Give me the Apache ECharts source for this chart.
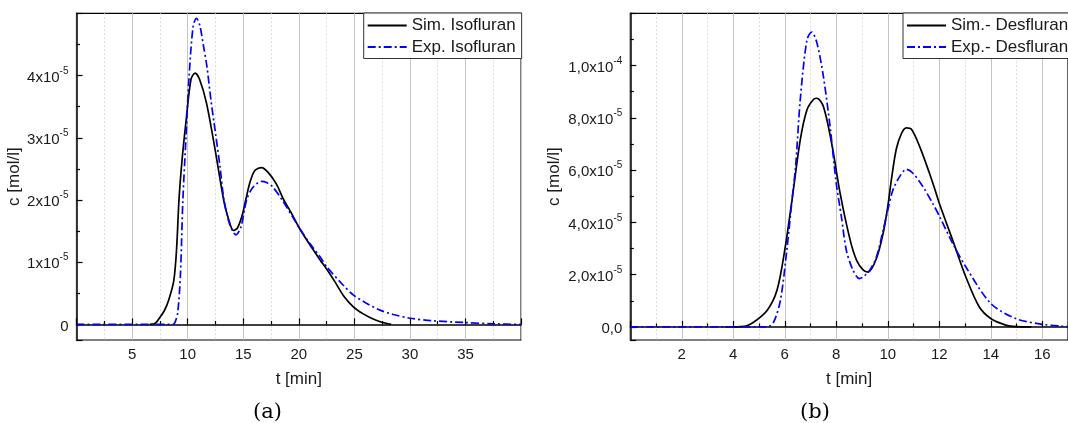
<!DOCTYPE html>
<html>
<head>
<meta charset="utf-8">
<script src="https://cdn.jsdelivr.net/npm/echarts@6/dist/echarts.min.js"></script>
<style>
html,body{margin:0;padding:0;background:#fff;}
#chart{width:1068px;height:423px;}
</style>
</head>
<body>
<div id="chart"></div>
<script>
// ---- Data (t in min, c in mol/l) ----
const simIsoT = [6.6, 7.1, 7.45, 7.9, 8.29, 8.75, 9.0, 9.22, 9.5, 9.84, 10.3, 10.67, 11.07, 11.69, 12.47, 13.24, 13.7, 14.11, 14.48, 14.9, 15.25, 15.6, 16.03, 16.64, 17.26, 18.0, 18.65, 19.3, 19.98, 20.7, 21.9, 22.5, 23.2, 24.07, 24.93, 25.8, 26.54, 27.4, 28.31];
const simIsoC = [0, 0.02e-5, 0.1e-5, 0.22e-5, 0.39e-5, 0.7e-5, 1.2e-5, 2.0e-5, 2.65e-5, 3.24e-5, 3.94e-5, 4.04e-5, 3.94e-5, 3.56e-5, 2.81e-5, 2.0e-5, 1.68e-5, 1.51e-5, 1.55e-5, 1.75e-5, 2.02e-5, 2.28e-5, 2.47e-5, 2.52e-5, 2.44e-5, 2.25e-5, 2.0e-5, 1.8e-5, 1.57e-5, 1.36e-5, 1.04e-5, 0.89e-5, 0.7e-5, 0.45e-5, 0.28e-5, 0.17e-5, 0.1e-5, 0.04e-5, 0];
const expIsoT = [0, 8.65, 8.85, 9.1, 9.35, 9.57, 9.84, 10.13, 10.5, 10.8, 11.1, 11.4, 11.73, 12.1, 12.5, 12.9, 13.27, 13.8, 14.35, 14.8, 15.3, 15.74, 16.2, 16.67, 17.1, 17.6, 18.5, 19.98, 21.0, 21.9, 22.5, 24.0, 24.93, 26.0, 27.3, 28.5, 30.0, 32.0, 35.0, 37.5, 40.0];
const expIsoC = [0, 0, 0.03e-5, 0.18e-5, 0.8e-5, 2.0e-5, 2.97e-5, 3.99e-5, 4.8e-5, 4.92e-5, 4.8e-5, 4.5e-5, 4.15e-5, 3.6e-5, 3.08e-5, 2.55e-5, 2.0e-5, 1.6e-5, 1.44e-5, 1.57e-5, 2.0e-5, 2.17e-5, 2.26e-5, 2.3e-5, 2.28e-5, 2.22e-5, 2.0e-5, 1.57e-5, 1.3e-5, 1.09e-5, 0.93e-5, 0.63e-5, 0.47e-5, 0.35e-5, 0.23e-5, 0.16e-5, 0.1e-5, 0.06e-5, 0.03e-5, 0.01e-5, 0];

const simDesT = [3.7, 4.41, 4.8, 5.32, 5.7, 6.02, 6.28, 6.6, 6.86, 7.12, 7.25, 7.5, 7.82, 8.15, 8.54, 8.79, 9.05, 9.24, 9.56, 9.82, 10.0, 10.15, 10.33, 10.53, 10.72, 10.92, 11.24, 11.62, 11.88, 12.0, 12.52, 13.03, 13.55, 14.0, 14.58, 15.0, 15.58];
const simDesC = [0, 0.02e-5, 0.19e-5, 0.64e-5, 1.41e-5, 3.07e-5, 4.85e-5, 7.15e-5, 8.3e-5, 8.71e-5, 8.75e-5, 8.43e-5, 7.03e-5, 5.11e-5, 3.32e-5, 2.55e-5, 2.17e-5, 2.1e-5, 2.62e-5, 3.58e-5, 4.6e-5, 5.7e-5, 6.8e-5, 7.4e-5, 7.62e-5, 7.56e-5, 6.9e-5, 5.88e-5, 5.11e-5, 4.73e-5, 3.32e-5, 1.92e-5, 0.77e-5, 0.32e-5, 0.07e-5, 0.01e-5, 0];
const expDesT = [0, 5.32, 5.57, 5.83, 6.08, 6.28, 6.42, 6.6, 6.86, 7.05, 7.25, 7.5, 7.76, 8.0, 8.2, 8.39, 8.65, 8.9, 9.05, 9.3, 9.56, 9.82, 10.0, 10.2, 10.46, 10.72, 10.98, 11.37, 11.76, 12.0, 12.52, 13.03, 14.0, 14.97, 16.0, 16.74, 17.5];
const expDesC = [0, 0, 0.19e-5, 1.02e-5, 2.94e-5, 4.85e-5, 6.13e-5, 8.68e-5, 10.98e-5, 11.28e-5, 10.86e-5, 9.58e-5, 7.66e-5, 5.49e-5, 4.21e-5, 2.94e-5, 2.17e-5, 1.85e-5, 1.92e-5, 2.17e-5, 2.68e-5, 3.7e-5, 4.47e-5, 5.24e-5, 5.75e-5, 6.03e-5, 5.88e-5, 5.36e-5, 4.7e-5, 4.25e-5, 3.2e-5, 2.3e-5, 0.9e-5, 0.32e-5, 0.1e-5, 0.03e-5, 0];

const namesA = ['Sim. Isofluran', 'Exp. Isofluran'];
const namesB = ['Sim.- Desfluran', 'Exp.- Desfluran'];
const xTitle = 't [min]';
const yTitle = 'c [mol/l]';
const captions = ['(a)', '(b)'];

function pairs(t, c) { return t.map((v, i) => [v, c[i]]); }

const FONT = '"Liberation Sans", Arial, sans-serif';
const TXT = '#1a1a1a';

function fmtA(v) {
  if (Math.abs(v) < 1e-12) return '{b|0}';
  const e = Math.floor(Math.log10(Math.abs(v)) + 1e-9);
  const m = Math.round(v / Math.pow(10, e));
  return '{b|' + m + 'x10}{s|' + e + '}';
}
function fmtB(v) {
  if (Math.abs(v) < 1e-12) return '{b|0,0}';
  const e = Math.floor(Math.log10(Math.abs(v)) + 1e-9);
  const m = (v / Math.pow(10, e)).toFixed(1).replace('.', ',');
  return '{b|' + m + 'x10}{s|' + e + '}';
}
const rich = {
  b: { fontSize: 15, fontFamily: FONT, color: TXT, lineHeight: 19, verticalAlign: 'bottom' },
  s: { fontSize: 10, fontFamily: FONT, color: TXT, lineHeight: 10, verticalAlign: 'top' }
};

function xAxisCfg(grid, max, interval) {
  return {
    type: 'value', gridIndex: grid, min: 0, max: max, interval: interval,
    name: xTitle, nameLocation: 'middle', nameGap: 31,
    nameTextStyle: { fontSize: 17, fontFamily: FONT, color: TXT },
    axisLine: { lineStyle: { color: '#000', width: 1.5 } },
    axisTick: { inside: true, length: 6, lineStyle: { color: '#000', width: 1.2 } },
    minorTick: { show: true, splitNumber: 2, length: 3.5, lineStyle: { color: '#000', width: 1.2 } },
    axisLabel: { showMinLabel: false, showMaxLabel: false, fontSize: 15, fontFamily: FONT, color: TXT, margin: 7 },
    splitLine: { show: true, lineStyle: { color: '#c4c4c4', width: 1 } },
    minorSplitLine: { show: true, lineStyle: { color: '#dcdcdc', width: 1, type: [2, 2] } }
  };
}
function yAxisCfg(grid, min, max, step, fmt, gap) {
  return {
    type: 'value', gridIndex: grid, min: min, max: max,
    minInterval: step, maxInterval: step, splitNumber: Math.round((max - min) / step),
    name: yTitle, nameLocation: 'middle', nameGap: gap,
    nameTextStyle: { fontSize: 17, fontFamily: FONT, color: TXT },
    axisLine: { show: true, lineStyle: { color: '#000', width: 1.5 } },
    axisTick: { inside: true, length: 6, lineStyle: { color: '#000', width: 1.2 } },
    minorTick: { show: true, splitNumber: 2, length: 3.5, lineStyle: { color: '#000', width: 1.2 } },
    axisLabel: { showMinLabel: false, showMaxLabel: false, margin: 8, formatter: fmt, rich: rich },
    splitLine: { show: false },
    minorSplitLine: { show: false }
  };
}

const lineSim = { color: '#000', width: 1.7 };
const lineExp = { color: '#0000ff', width: 1.7, type: [8, 3, 2, 3] };
function series(name, data, idx, ls) {
  return {
    name: name, type: 'line', xAxisIndex: idx, yAxisIndex: idx, data: data,
    showSymbol: false, symbol: 'none', smooth: 0.3,
    lineStyle: ls, itemStyle: { color: ls.color }, animation: false
  };
}
function legendCfg(left, names) {
  return {
    data: names, orient: 'vertical', left: left, top: 13,
    itemWidth: 39, itemHeight: 14, itemGap: 4.5,
    padding: [4, 6, 3, 3], backgroundColor: '#fff',
    borderColor: '#333', borderWidth: 1, borderRadius: 0,
    itemStyle: { opacity: 0 },
    textStyle: { fontSize: 17, fontFamily: FONT, color: TXT, padding: [0, 0, 0, 0] },
    selectedMode: false
  };
}

const chart = echarts.init(document.getElementById('chart'), null, { renderer: 'canvas' });
chart.setOption({
  backgroundColor: '#fff',
  animation: false,
  grid: [
    { left: 76.5, top: 13.3, width: 444.6, height: 326.7, show: true, borderColor: '#000', borderWidth: 1.2, backgroundColor: 'transparent', containLabel: false },
    { left: 630.3, top: 13.3, width: 444.4, height: 326.7, show: true, borderColor: '#000', borderWidth: 1.2, backgroundColor: 'transparent', containLabel: false }
  ],
  xAxis: [xAxisCfg(0, 40, 5), xAxisCfg(1, 17, 2)],
  yAxis: [yAxisCfg(0, -2.5e-6, 5.0e-5, 1e-5, fmtA, 52), yAxisCfg(1, -5e-6, 1.2e-4, 2e-5, fmtB, 67)],
  legend: [legendCfg(363.7, namesA), legendCfg(903, namesB)],
  series: [
    series(namesA[0], pairs(simIsoT, simIsoC), 0, lineSim),
    series(namesA[1], pairs(expIsoT, expIsoC), 0, lineExp),
    series(namesB[0], pairs(simDesT, simDesC), 1, lineSim),
    series(namesB[1], pairs(expDesT, expDesC), 1, lineExp)
  ],
  graphic: [
    { type: 'text', x: 267.5, y: 413, style: { text: captions[0], font: '21px "DejaVu Serif", serif', fill: '#000', textAlign: 'center', textVerticalAlign: 'middle' } },
    { type: 'text', x: 815, y: 413, style: { text: captions[1], font: '21px "DejaVu Serif", serif', fill: '#000', textAlign: 'center', textVerticalAlign: 'middle' } }
  ]
});
</script>
</body>
</html>
